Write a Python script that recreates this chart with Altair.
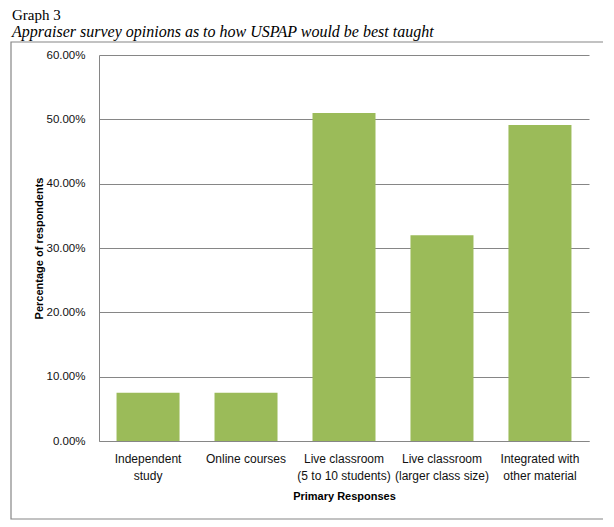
import altair as alt
import pandas as pd

title_text = "Graph 3"
subtitle_text = "Appraiser survey opinions as to how USPAP would be best taught"
categories = [
    "Independent|study",
    "Online courses",
    "Live classroom|(5 to 10 students)",
    "Live classroom|(larger class size)",
    "Integrated with|other material",
]
values = [0.075, 0.075, 0.510, 0.320, 0.491]
y_ticks = [0.0, 0.1, 0.2, 0.3, 0.4, 0.5, 0.6]

df = pd.DataFrame({"cat": categories, "val": values})

GRAY = "#868686"
SANS = "Liberation Sans"
SERIF = "Liberation Serif"

bars = alt.Chart(df).mark_bar(color="#9BBB59").encode(
    x=alt.X(
        "cat:N",
        sort=categories,
        scale=alt.Scale(paddingInner=0.357, paddingOuter=0.179),
        axis=alt.Axis(
            title="Primary Responses",
            labelExpr="split(datum.label, '|')",
            labelAngle=0,
            ticks=False,
            labelPadding=12,
            labelLineHeight=17,
            labelFontSize=12,
            labelFont=SANS,
            labelColor="#111111",
            labelLimit=300,
            titleFont=SANS,
            titleFontSize=11,
            titleFontWeight="bold",
            titleColor="#000000",
            titlePadding=9,
            domainColor=GRAY,
            grid=False,
        ),
    ),
    y=alt.Y(
        "val:Q",
        scale=alt.Scale(domain=[0, 0.6]),
        axis=alt.Axis(
            values=y_ticks,
            format=".2%",
            ticks=False,
            labelPadding=14,
            labelFontSize=11.5,
            labelFont=SANS,
            labelColor="#111111",
            grid=True,
            gridColor=GRAY,
            domainColor=GRAY,
            title="Percentage of respondents",
            titleFont=SANS,
            titleFontSize=11,
            titleFontWeight="bold",
            titleColor="#000000",
            titlePadding=1,
        ),
    ),
)

border = alt.Chart(alt.Data(values=[{"k": 1}])).mark_rect(
    fill="white", fillOpacity=0, stroke=GRAY, strokeWidth=1.2
).encode(
    x=alt.value(-88), x2=alt.value(505), y=alt.value(-13), y2=alt.value(464)
)

t1 = alt.Chart(alt.Data(values=[{"t": title_text}])).mark_text(
    align="left", baseline="alphabetic", font=SERIF, fontSize=15, color="#000000"
).encode(x=alt.value(-87), y=alt.value(-35), text="t:N")

t2 = alt.Chart(alt.Data(values=[{"t": subtitle_text}])).mark_text(
    align="left", baseline="alphabetic", font=SERIF, fontSize=16,
    fontStyle="italic", color="#000000"
).encode(x=alt.value(-87), y=alt.value(-18), text="t:N")

chart = alt.layer(border, bars, t1, t2).properties(
    width=490,
    height=386,
    padding={"left": 91, "top": 47, "right": 14, "bottom": 80},
    autosize=alt.AutoSizeParams(type="none"),
    background="white",
).configure_view(stroke=None)

chart.save("out.html", embed_options={"renderer": "svg", "actions": False})
